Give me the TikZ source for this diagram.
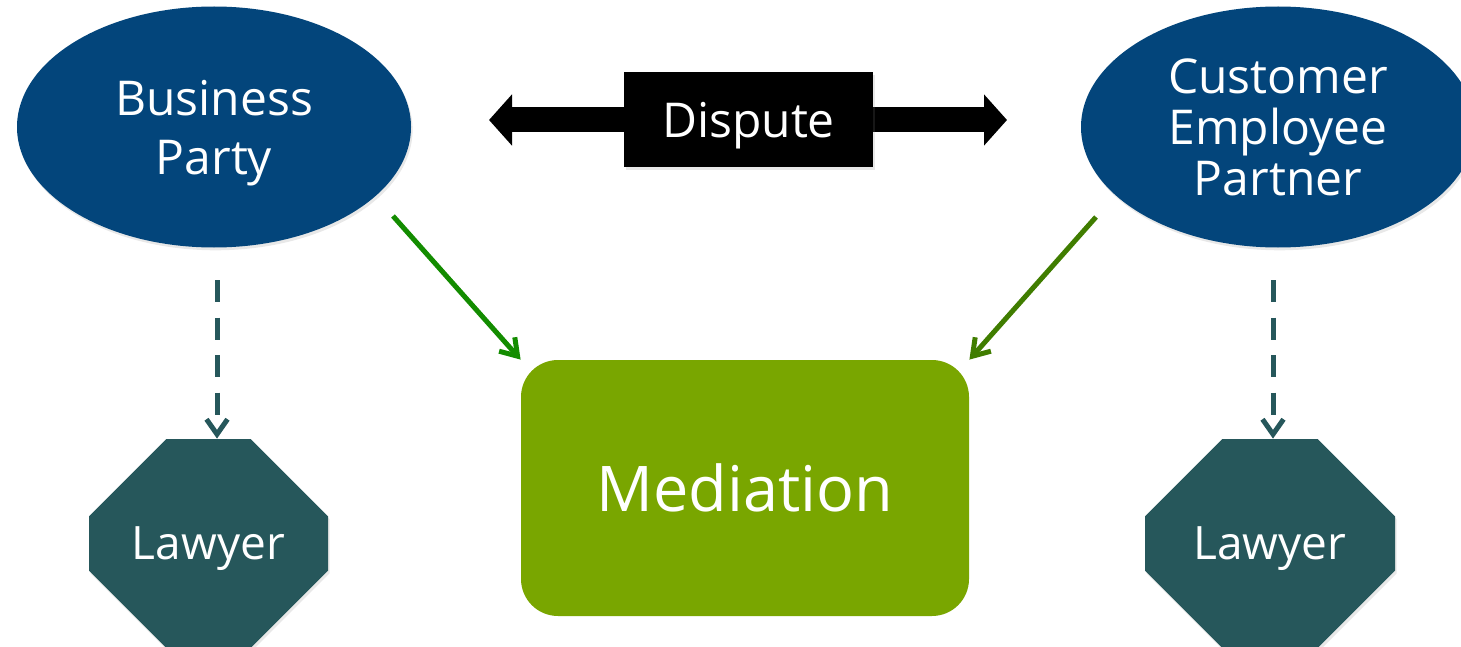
\documentclass[tikz,border=0pt]{standalone}
\usepackage{fontspec}
\setmainfont{Open Sans}
\usetikzlibrary{positioning, arrows.meta, shapes.geometric, shapes.misc, shadows}

\definecolor{partyblue}{HTML}{03457B}
\definecolor{medgreen}{HTML}{79A600}
\definecolor{lawteal}{HTML}{26575B}
\definecolor{linkgreen}{HTML}{138C00}
\definecolor{linkolive}{HTML}{407D00}

\begin{document}
\begin{tikzpicture}[
	x=0.5pt, y=-0.5pt,
	softshadow/.style={drop shadow={opacity=0.18, shadow xshift=0.8pt, shadow yshift=-1.4pt}},
	party/.style={ellipse, fill=partyblue, text=white, inner sep=0pt, minimum width=197pt, minimum height=120.5pt, align=center, text depth=0pt, softshadow},
	lawyer/.style={chamfered rectangle, fill=lawteal, text=white, inner sep=0pt, minimum height=104.5pt, chamfered rectangle xsep=29pt, chamfered rectangle ysep=30.5pt, text depth=0pt, font=\fontsize{23}{28}\selectfont, softshadow},
	mediator/.style={rectangle, rounded corners=18.5pt, fill=medgreen, text=white, minimum width=224pt, minimum height=128pt, font=\fontsize{31.5}{38}\selectfont},
	disputebox/.style={rectangle, fill=black, text=white, minimum width=124.5pt, minimum height=47.5pt, text depth=0pt, font=\fontsize{24}{29}\selectfont, softshadow},
	clash/.style={line width=12.5pt, {Triangle[length=11.5pt, width=25pt]}-{Triangle[length=11.5pt, width=25pt]}},
	link/.style={line width=2.5pt, -{Straight Barb[length=8pt, width=10.5pt]}},
	hire/.style={lawteal, line width=2.5pt, dash pattern=on 11pt off 7.75pt, -{Straight Barb[length=7.5pt, width=10.5pt]}}
]

\useasboundingbox (0,0) rectangle (1461,647);

\node[party, font=\fontsize{24}{29.5}\selectfont] (biz) at (214,127) {Business\\Party};
\node[party, font=\fontsize{24}{25.5}\selectfont] (cust) at (1278,127) {Customer\\Employee\\Partner};
\node[mediator] (med) at (745,488) {Mediation};
\node[lawyer, minimum width=119.5pt] (lawL) at (208.5,543.5) {Lawyer};
\node[lawyer, minimum width=125pt] (lawR) at (1270,543.5) {Lawyer};

\coordinate (dL) at (489,120);
\coordinate (dR) at (1007,120);
\draw[clash] (dL) -- (dR);
\node[disputebox] (disp) at (748.5,119.5) {Dispute};

\coordinate (bizout) at (393,216);
\coordinate (custout) at (1096,217);
\draw[link, linkgreen] (bizout) -- (med.north west);
\draw[link, linkolive] (custout) -- (med.north east);

\coordinate (hireL) at (217,280);
\coordinate (hireR) at (1273,280);
\draw[hire] (hireL) -- (hireL |- lawL.north);
\draw[hire] (hireR) -- (hireR |- lawR.north);

\end{tikzpicture}
\end{document}
